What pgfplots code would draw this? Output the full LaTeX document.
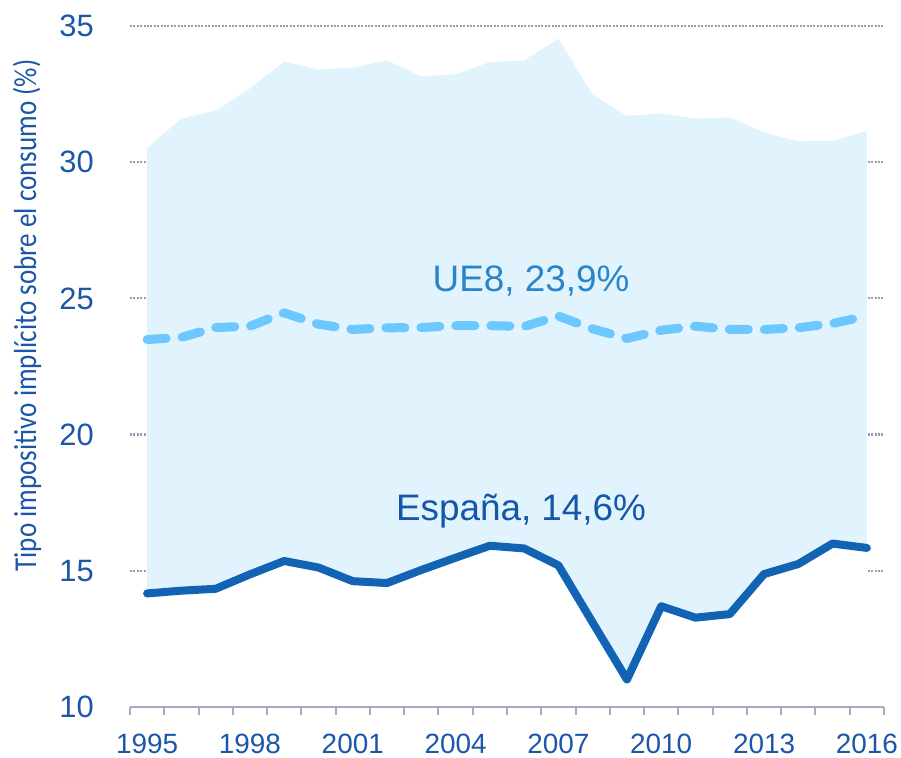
\documentclass[border=0pt]{standalone}
\usepackage{fontspec}
\setmainfont{Liberation Sans}
\newfontfamily\ylabfont[FakeStretch=0.85]{Carlito}
\usepackage{pgfplots}
\usepackage{pgfplotstable}
\pgfplotsset{compat=1.18}
\definecolor{areaC}{RGB}{225,244,253}
\definecolor{espC}{RGB}{18,99,180}
\definecolor{ueC}{RGB}{108,200,255}
\definecolor{tickC}{RGB}{28,86,168}
\definecolor{ueT}{RGB}{42,132,202}
\definecolor{espT}{RGB}{20,86,168}
\definecolor{gridC}{RGB}{150,158,178}
\definecolor{axC}{RGB}{165,173,189}
\pgfplotstableread{
year max esp ue
1995 30.52 14.17 23.49
1996 31.60 14.27 23.57
1997 31.90 14.34 23.93
1998 32.70 14.87 23.98
1999 33.70 15.36 24.47
2000 33.40 15.12 24.05
2001 33.48 14.62 23.86
2002 33.74 14.55 23.92
2003 33.15 15.03 23.93
2004 33.23 15.48 24.00
2005 33.68 15.92 24.00
2006 33.74 15.82 23.97
2007 34.54 15.20 24.35
2008 32.48 13.10 23.88
2009 31.70 11.01 23.53
2010 31.79 13.70 23.83
2011 31.60 13.28 23.98
2012 31.65 13.41 23.86
2013 31.09 14.88 23.86
2014 30.77 15.25 23.92
2015 30.79 16.00 24.08
2016 31.15 15.84 24.35
}\data
\begin{document}
\begin{tikzpicture}
\begin{axis}[
  axis on top,
  width=754bp, height=681bp, scale only axis,
  xmin=1994.5, xmax=2016.5, ymin=10, ymax=35,
  axis x line*=bottom, axis y line*=left,
  y axis line style={draw=none},
  x axis line style={axC, line width=2bp},
  xtick={1994.5,1995.5,...,2016.5},
  xticklabels={},
  x tick style={axC, line width=2bp},
  tick align=outside,
  major tick length=8bp,
  extra x ticks={1995,1998,2001,2004,2007,2010,2013,2016},
  extra x tick labels={1995,1998,2001,2004,2007,2010,2013,2016},
  extra x tick style={major tick length=0pt, grid=none, tick style={draw=none},
     xticklabel style={anchor=north, inner sep=0pt, yshift=-27bp}},
  xticklabel style={font=\fontsize{28}{30}\selectfont, text=tickC},
  ytick={10,15,20,25,30,35},
  y tick style={draw=none},
  /pgf/number format/assume math mode=true,
  yticklabel style={font=\fontsize{31}{33}\selectfont, text=tickC, anchor=east, inner sep=0pt, xshift=-28bp},
  ylabel={Tipo impositivo implícito sobre el consumo (\%)},
  ylabel style={at={(axis description cs:-0.1366,0.575)}, anchor=center, font=\ylabfont\fontsize{32}{34}\selectfont, text=tickC},
  gridline/.style={gridC, line width=2.2bp, dash pattern=on 2bp off 1.4bp, forget plot},
]
\addplot[gridline] coordinates {(1994.5,15) (2016.5,15)};
\addplot[gridline] coordinates {(1994.5,20) (2016.5,20)};
\addplot[gridline] coordinates {(1994.5,25) (2016.5,25)};
\addplot[gridline] coordinates {(1994.5,30) (2016.5,30)};
\addplot[gridline] coordinates {(1994.5,35) (2016.5,35)};
\addplot[fill=areaC, draw=none, forget plot] table[x=year,y=max]{\data} \closedcycle;
\addplot[fill=white, draw=none, forget plot] table[x=year,y=esp]{\data} \closedcycle;
\addplot[ueC, line width=9bp, line cap=round, line join=round, dash pattern=on 19bp off 16bp] table[x=year,y=ue]{\data};
\addplot[espC, line width=8bp, line cap=round, line join=round] table[x=year,y=esp]{\data};
\node[anchor=base, text=ueT, font=\fontsize{37}{40}\selectfont] at (axis cs:2006.2,25.24) {UE8, 23,9\%};
\node[anchor=base, text=espT, font=\fontsize{37}{40}\selectfont] at (axis cs:2005.91,16.83) {España, 14,6\%};
\end{axis}
\pgfresetboundingbox
\useasboundingbox (-130bp,-51bp) rectangle (771bp,707bp);
\end{tikzpicture}
\end{document}
